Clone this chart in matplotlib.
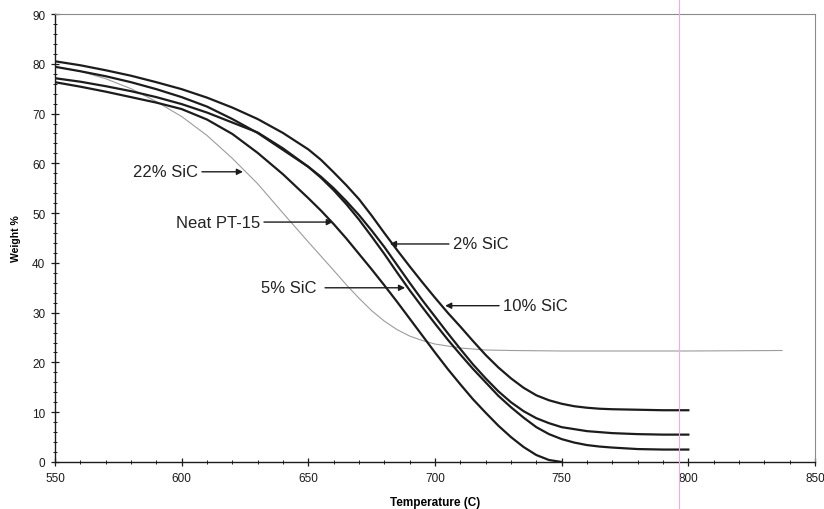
import matplotlib
matplotlib.use("Agg")
import matplotlib.pyplot as plt
from matplotlib.ticker import MultipleLocator
from matplotlib.lines import Line2D

plt.rcParams['font.family'] = ['Liberation Sans', 'DejaVu Sans']

# temperature grid (C), denser where the curves bend
temp = [550, 560, 570, 580, 590, 600, 610, 620, 630, 640, 650,
        655, 660, 665, 670, 675, 680, 685, 690, 695, 700, 705, 710,
        715, 720, 725, 730, 735, 740, 745, 750, 755, 760, 765, 770,
        780, 790, 800]

# weight % curves
sic10 = [80.5, 79.7, 78.7, 77.6, 76.3, 74.9, 73.2, 71.2, 68.9, 66.1, 62.8,
         60.7, 58.2, 55.6, 52.8, 49.5, 46.0, 42.6, 39.3, 36.1, 33.0, 30.0, 27.2,
         24.3, 21.5, 19.0, 16.8, 14.9, 13.4, 12.4, 11.7, 11.2, 10.9, 10.7, 10.6,
         10.5, 10.4, 10.4]
sic2 = [79.4, 78.5, 77.5, 76.3, 74.9, 73.3, 71.4, 68.9, 66.1, 62.7, 59.3,
        57.3, 55.0, 52.4, 49.6, 46.5, 43.2, 39.6, 36.0, 32.5, 29.2, 25.9, 22.7,
        19.6, 16.8, 14.2, 12.0, 10.2, 8.8, 7.8, 7.0, 6.6, 6.2, 6.0, 5.8,
        5.6, 5.5, 5.5]
sic5 = [77.1, 76.4, 75.5, 74.5, 73.3, 71.9, 70.2, 68.2, 66.2, 63.0, 59.3,
        57.1, 54.6, 51.8, 48.7, 45.3, 41.8, 38.1, 34.5, 31.1, 27.8, 24.6, 21.6,
        18.7, 16.0, 13.3, 11.0, 8.9, 7.0, 5.6, 4.6, 3.9, 3.4, 3.1, 2.9,
        2.6, 2.5, 2.5]

temp_neat = temp[:31]
neat = [76.3, 75.4, 74.4, 73.3, 72.2, 70.9, 68.8, 65.9, 62.1, 57.8, 53.0,
        50.5, 47.8, 44.9, 41.8, 38.7, 35.5, 32.2, 28.8, 25.4, 22.0, 18.7, 15.6,
        12.6, 9.9, 7.3, 5.0, 3.0, 1.4, 0.4, 0.0]

temp_22 = [550, 560, 570, 580, 590, 600, 610, 620, 630, 640, 650, 660,
           665, 670, 675, 680, 685, 690, 695, 700, 710, 720, 730, 750,
           775, 800, 837]
sic22 = [79.4, 78.5, 77.0, 75.0, 72.4, 69.4, 65.6, 61.0, 55.9, 50.0, 44.2, 38.5,
         35.6, 32.9, 30.4, 28.3, 26.6, 25.3, 24.4, 23.7, 22.9, 22.5, 22.4, 22.3,
         22.3, 22.3, 22.4]

# labels: text, text anchor (T, W), arrow tail, arrow tip
labels = [
    ("22% SiC", (606.4, 58.3), (608.0, 58.3), (624.2, 58.3), "right"),
    ("Neat PT-15", (630.9, 48.2), (632.5, 48.2), (659.7, 48.2), "right"),
    ("5% SiC", (653.4, 35.0), (656.6, 35.0), (688.2, 35.0), "right"),
    ("2% SiC", (707.1, 43.8), (705.5, 43.8), (682.2, 43.8), "left"),
    ("10% SiC", (726.8, 31.4), (725.3, 31.4), (704.0, 31.4), "left"),
]

fig = plt.figure(figsize=(8.24, 5.10), dpi=100)
ax = fig.add_axes([55 / 824, 47 / 510, 760 / 824, 448 / 510])

ax.plot(temp_22, sic22, color="#9c9c9c", lw=0.8)
for y in (sic10, sic2, sic5):
    ax.plot(temp, y, color="#1c1c1c", lw=1.6, solid_joinstyle="round")
ax.plot(temp_neat, neat, color="#1c1c1c", lw=1.6, solid_joinstyle="round")

for txt, pos, tail, tip, ha in labels:
    ax.text(pos[0], pos[1], txt, ha=ha, va="center", fontsize=12, color="#222222")
    ax.annotate("", xy=tip, xytext=tail,
                arrowprops=dict(arrowstyle="-|>", color="#1c1c1c", lw=1.0,
                                mutation_scale=9, shrinkA=0, shrinkB=0))

ax.set_xlim(550, 850)
ax.set_ylim(0, 90)
ax.xaxis.set_major_locator(MultipleLocator(50))
ax.xaxis.set_minor_locator(MultipleLocator(10))
ax.yaxis.set_major_locator(MultipleLocator(10))
ax.yaxis.set_minor_locator(MultipleLocator(2))
ax.tick_params(which="major", direction="inout", length=6, width=0.9,
               labelsize=8.5, colors="#1c1c1c", pad=4)
ax.tick_params(which="minor", direction="inout", length=3.5, width=0.7, colors="#1c1c1c")
ax.tick_params(top=False, right=False, which="both")

for s in ("left", "bottom"):
    ax.spines[s].set_color("#1c1c1c")
    ax.spines[s].set_linewidth(1.0)
for s in ("top", "right"):
    ax.spines[s].set_color("#8a8a8a")
    ax.spines[s].set_linewidth(0.8)

ax.set_xlabel("Temperature (C)", fontsize=8.5, fontweight="bold", labelpad=9)
ax.set_ylabel("Weight %", fontsize=7.5, fontweight="bold", labelpad=8)

# faint scan line across the page
fig.add_artist(Line2D([679 / 824, 679 / 824], [0, 1], transform=fig.transFigure,
                      color="#f5a8f0", lw=0.8))

fig.savefig("out.png", dpi=100)
